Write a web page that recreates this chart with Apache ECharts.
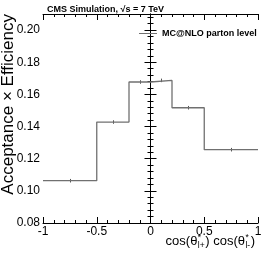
<!DOCTYPE html>
<html>
<head>
<meta charset="utf-8">
<script src="https://cdn.jsdelivr.net/npm/echarts@6/dist/echarts.min.js"></script>
<style>html,body{margin:0;padding:0;background:#fff}#c{width:270px;height:257px}</style>
</head>
<body>
<div id="c"></div>
<script>
// Data
var binEdges = [-1, -0.5, -0.2, 0, 0.2, 0.5, 1];
var efficiency = [0.1063, 0.1428, 0.1677, 0.1687, 0.1517, 0.1256];
var errors = [0.0011, 0.0011, 0.0011, 0.0011, 0.0011, 0.0011];
var xTicks = [-1, -0.5, 0, 0.5, 1];
var yTicks = [0.08, 0.10, 0.12, 0.14, 0.16, 0.18, 0.20];
var seriesName = 'MC@NLO parton level';
var titleText = 'CMS Simulation, \u221As = 7 TeV';
var yTitle = 'Acceptance \u00D7 Efficiency';

var FONT = 'Liberation Sans, Arial, Helvetica, sans-serif';

var stepData = [];
for (var i = 0; i < efficiency.length; i++) stepData.push([binEdges[i], efficiency[i]]);
stepData.push([binEdges[binEdges.length - 1], efficiency[efficiency.length - 1]]);

var errData = [];
for (var j = 0; j < efficiency.length; j++) {
  errData.push([(binEdges[j] + binEdges[j + 1]) / 2, efficiency[j], errors[j]]);
}

var chart = echarts.init(document.getElementById('c'), null, {renderer: 'canvas'});

var axisCommon = {
  axisLine: {show: true, lineStyle: {color: '#000', width: 1}},
  axisTick: {show: true, inside: true, length: 6, lineStyle: {color: '#000', width: 1}},
  minorTick: {show: true, splitNumber: 5, length: 3, lineStyle: {color: '#000', width: 1}},
  splitLine: {show: false}
};

function mk(base, extra) { return Object.assign({}, JSON.parse(JSON.stringify(base)), extra); }

// x title layout with stacked super/subscripts
var mc = document.createElement('canvas').getContext('2d');
function tw(t, size) { mc.font = size + 'px ' + FONT; return mc.measureText(t).width; }
var big = 13, small = 8.5;
var pieces = [
  {t: 'cos(\u03B8', s: 'big'},
  {sup: '*', sub: 'l+'},
  {t: ') cos(\u03B8', s: 'big'},
  {sup: '*', sub: 'l-'},
  {t: ')', s: 'big'}
];
var totalW = 0;
pieces.forEach(function (p) {
  if (p.t) p.w = tw(p.t, big);
  else p.w = Math.max(tw(p.sup, small), tw(p.sub, small)) + 1;
  totalW += p.w;
});
var xRight = 255, xBase = 248;
var gx = xRight - totalW;
var xTitleEls = [];
pieces.forEach(function (p) {
  if (p.t) {
    xTitleEls.push({type: 'text', x: gx, y: xBase, style: {text: p.t, font: big + 'px ' + FONT, fill: '#000', textAlign: 'left', textVerticalAlign: 'bottom'}});
  } else {
    xTitleEls.push({type: 'text', x: gx + 0.5, y: xBase - 6, style: {text: p.sup, font: small + 'px ' + FONT, fill: '#000', textAlign: 'left', textVerticalAlign: 'bottom'}});
    xTitleEls.push({type: 'text', x: gx + 0.5, y: xBase + 2, style: {text: p.sub, font: small + 'px ' + FONT, fill: '#000', textAlign: 'left', textVerticalAlign: 'bottom'}});
  }
  gx += p.w;
});

var option = {
  animation: false,
  backgroundColor: '#fff',
  title: {
    text: titleText, left: 42, top: 0,
    textStyle: {fontFamily: FONT, fontWeight: 'bold', fontSize: 9, color: '#000'}
  },
  legend: {
    show: true, left: 134, top: 24, itemWidth: 18, itemHeight: 8, itemGap: 4,
    data: [{name: seriesName, icon: 'path://M0,4L18,4L18,5L0,5Z'}],
    textStyle: {fontFamily: FONT, fontWeight: 'bold', fontSize: 9, color: '#000'}
  },
  grid: {left: 43, right: 12, top: 14, bottom: 34},
  xAxis: [
    mk(axisCommon, {
      type: 'value', min: -1, max: 1, interval: 0.5, position: 'bottom',
      axisLabel: {show: true, color: '#000', fontFamily: FONT, fontSize: 12, margin: 3,
        formatter: function (v) { return xTicks.indexOf(v) >= 0 ? String(v) : ''; }}
    }),
    mk(axisCommon, {
      type: 'value', min: -1, max: 1, interval: 0.5, position: 'top',
      axisLabel: {show: false}
    })
  ],
  yAxis: [
    mk(axisCommon, {
      type: 'value', min: 0.08, max: 0.21, interval: 0.02, position: 'left',
      axisLabel: {show: true, color: '#000', fontFamily: FONT, fontSize: 12, margin: 3, showMaxLabel: false,
        formatter: function (v) {
          for (var k = 0; k < yTicks.length; k++) if (Math.abs(yTicks[k] - v) < 1e-9) return yTicks[k].toFixed(2);
          return '';
        }}
    }),
    mk(axisCommon, {
      type: 'value', min: 0.08, max: 0.21, interval: 0.02, position: 'right',
      axisLabel: {show: false}
    })
  ],
  series: [
    {
      name: seriesName, type: 'line', step: 'end', symbol: 'none',
      data: stepData, xAxisIndex: 0, yAxisIndex: 0,
      lineStyle: {color: '#707070', width: 1.3}, itemStyle: {color: '#707070'}
    },
    {
      type: 'custom', xAxisIndex: 0, yAxisIndex: 0, data: errData, silent: true,
      renderItem: function (params, api) {
        var x = api.value(0), y = api.value(1), e = api.value(2);
        var p1 = api.coord([x, y - e]), p2 = api.coord([x, y + e]);
        return {type: 'line', shape: {x1: Math.round(p1[0]) + 0.5, y1: p1[1], x2: Math.round(p2[0]) + 0.5, y2: p2[1]},
          style: {stroke: '#555', lineWidth: 1}};
      }
    }
  ],
  graphic: [
    {type: 'text', x: 8, y: 14, rotation: Math.PI / 2,
      style: {text: yTitle, font: '17px ' + FONT, fill: '#000', textAlign: 'right', textVerticalAlign: 'middle'}}
  ].concat(xTitleEls)
};
chart.setOption(option);
</script>
</body>
</html>
